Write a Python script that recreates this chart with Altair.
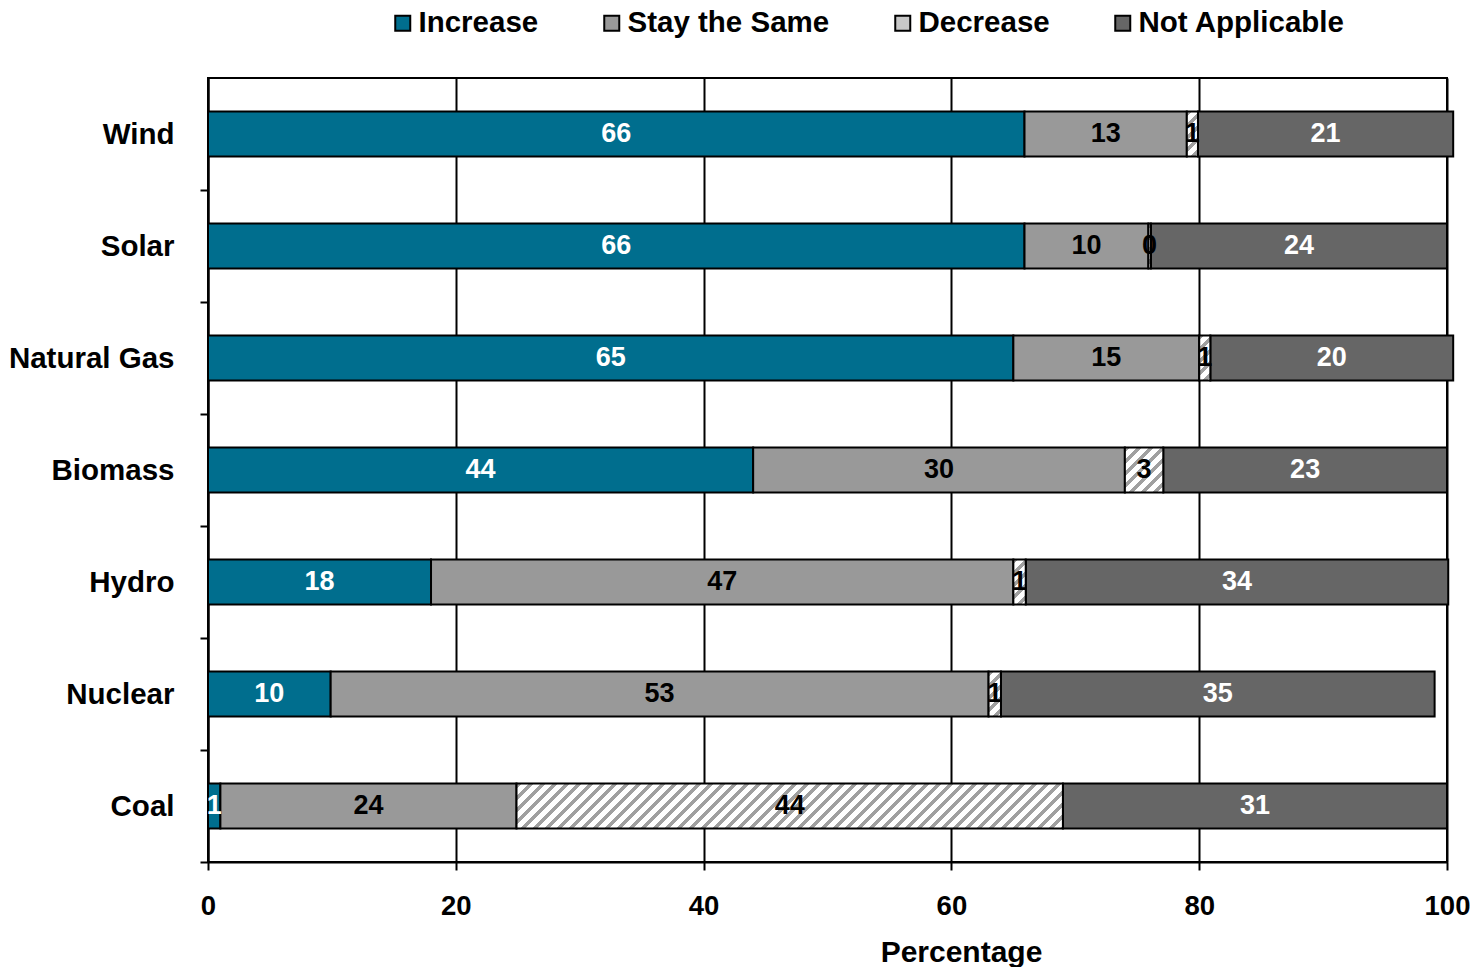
import altair as alt
import pandas as pd

# ---------------- data ----------------
categories = ["Wind", "Solar", "Natural Gas", "Biomass", "Hydro", "Nuclear", "Coal"]
series = ["Increase", "Stay the Same", "Decrease", "Not Applicable"]
increase = [65.9, 65.9, 65.0, 44.0, 18.0, 9.9, 1.0]
stay_same = [13.1, 10.0, 15.0, 30.0, 47.0, 53.1, 23.9]
decrease = [0.9, 0.2, 0.9, 3.1, 1.0, 1.0, 44.1]
not_applicable = [20.6, 23.9, 19.6, 22.9, 34.1, 35.0, 31.0]
x_ticks = [0, 20, 40, 60, 80, 100]

# ---------------- style ----------------
colors = ["#006E8E", "#999999", "#C8C8C8", "#666666"]
FONT = "Liberation Sans"
PLOT_W, PLOT_H = 1239, 784
PAD_INNER = 0.6
STRIPE_PERIOD = 12.0
STRIPE_FRAC = 0.42
STRIPE_COLOR = "#A0A0A0"

rows = []
for i, c in enumerate(categories):
    for j, (s, vals) in enumerate(zip(series, [increase, stay_same, decrease, not_applicable])):
        rows.append({"category": c, "series": s, "order": j, "value": vals[i]})
df = pd.DataFrame(rows)

base = alt.Chart(df).transform_stack(
    stack="value", groupby=["category"], as_=["x0", "x1"],
    sort=[alt.SortField("order", order="ascending")],
)

y_enc = alt.Y(
    "category:N", sort=categories,
    scale=alt.Scale(paddingInner=PAD_INNER, paddingOuter=PAD_INNER / 2),
    axis=alt.Axis(
        title=None, labelFont=FONT, labelFontSize=29.5, labelFontWeight="bold",
        labelColor="black", labelPadding=26, tickSize=8, tickColor="black",
        tickWidth=2, domainColor="black", domainWidth=2, grid=False,
        tickOffset=56, labelOffset=-56, labelLimit=500,
    ),
)


def x_enc(field):
    return alt.X(
        field, scale=alt.Scale(domain=[0, 100], nice=False, zero=True),
        axis=alt.Axis(
            title="Percentage", values=x_ticks, format="d", labelFont=FONT,
            labelFontSize=27.5, labelFontWeight="bold", labelColor="black",
            labelPadding=22, labelFlush=False, tickSize=8, tickColor="black",
            tickWidth=2, domainColor="black", domainWidth=2, grid=True,
            gridColor="black", gridWidth=2, gridOpacity=1, titleFont=FONT,
            titleFontSize=30, titleFontWeight="bold", titleColor="black",
            titlePadding=18, titleX=753, titleAlign="center", titleAnchor="start",
        ),
    )


bars = base.transform_filter("datum.series != 'Decrease'").mark_bar(
    stroke="black", strokeWidth=2
).encode(
    x=x_enc("x0:Q"), x2="x1:Q", y=y_enc,
    color=alt.Color(
        "series:N",
        scale=alt.Scale(domain=series, range=colors),
        legend=alt.Legend(
            title=None, orient="none", direction="horizontal", legendX=180,
            legendY=-70, columnPadding=58, labelFont=FONT, labelFontSize=29.5,
            labelFontWeight="bold", labelColor="black", labelOffset=1,
            labelLimit=500, symbolType="square", symbolSize=225,
            symbolStrokeColor="black", symbolStrokeWidth=2, symbolOpacity=1,
        ),
    ),
)

bar_h = PLOT_H / len(categories) * (1 - PAD_INNER)


def hatch_gradient(v):
    w = max(v * PLOT_W / 100.0, 1.0)
    h = bar_h
    r = h / w
    k = (w + h) / (w * (1 + r * r))
    s = w + h
    stops = []
    j = 0
    while j * STRIPE_PERIOD < s:
        a = j * STRIPE_PERIOD / s
        b = min((j + STRIPE_FRAC) * STRIPE_PERIOD / s, 1.0)
        stops += [
            alt.GradientStop(offset=a, color="white"),
            alt.GradientStop(offset=a, color=STRIPE_COLOR),
            alt.GradientStop(offset=b, color=STRIPE_COLOR),
            alt.GradientStop(offset=b, color="white"),
        ]
        j += 1
    stops.append(alt.GradientStop(offset=1.0, color="white"))
    return alt.Gradient(gradient="linear", stops=stops, x1=0, y1=0, x2=k, y2=k * r)


dec_layers = []
for c, v in zip(categories, decrease):
    dec_layers.append(
        base.transform_filter(
            f"datum.series == 'Decrease' && datum.category == '{c}'"
        ).mark_bar(fill=hatch_gradient(v), stroke="black", strokeWidth=2)
        .encode(x=x_enc("x0:Q"), x2="x1:Q", y=y_enc)
    )

labels = base.transform_calculate(
    mid="(datum.x0 + datum.x1) / 2",
    lc="(datum.series == 'Increase' || datum.series == 'Not Applicable') ? 'white' : 'black'",
).mark_text(font=FONT, fontSize=27, fontWeight="bold", baseline="middle").encode(
    x=x_enc("mid:Q"), y=y_enc,
    text=alt.Text("value:Q", format=".0f"),
    color=alt.Color("lc:N", scale=None),
)

chart = alt.layer(bars, *dec_layers, labels).resolve_scale(color="independent").properties(
    width=PLOT_W, height=PLOT_H,
    padding={"left": 200, "top": 70, "right": 23, "bottom": 105},
    autosize=alt.AutoSizeParams(type="none"),
).configure_view(stroke="black", strokeWidth=2)

chart.save("out.html", embed_options={"renderer": "svg", "actions": False})
